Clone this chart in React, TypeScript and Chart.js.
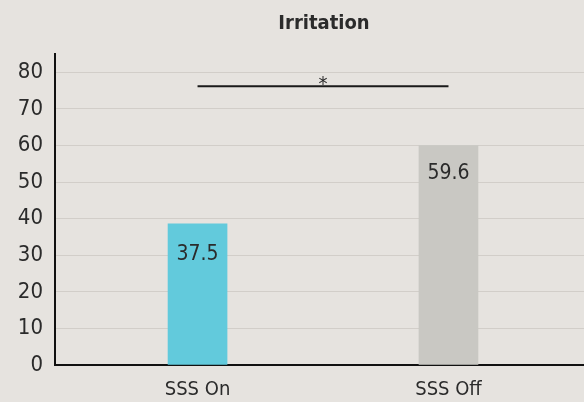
import React, { useEffect, useRef } from "react";
import { Chart, registerables } from "chart.js";

Chart.register(...registerables);

// ---- data ----
const titleText = "Irritation";
const categories = ["SSS On", "SSS Off"];
const barValues = [38.6, 60.0];
const valueLabels = ["37.5", "59.6"];
const barColors = ["#62cadc", "#c9c8c3"];
const yTickValues = [0, 10, 20, 30, 40, 50, 60, 70, 80];
const sigFrom = 0;
const sigTo = 1;
const sigLevel = 76.2;
const sigLabel = "*";

const FONT = "'DejaVu Sans Condensed', 'Liberation Sans Narrow', 'DejaVu Sans', sans-serif";
const TEXT = "#2b2b2b";
const BG = "#e6e3df";

const overlayPlugin = {
  id: "overlay",
  beforeDraw(chart: any) {
    const { ctx, width, height } = chart;
    ctx.save();
    ctx.fillStyle = BG;
    ctx.fillRect(0, 0, width, height);
    ctx.restore();
  },
  afterDatasetsDraw(chart: any) {
    const { ctx } = chart;
    const xs = chart.scales.x;
    const ys = chart.scales.y;
    ctx.save();
    // title centred between the two bars
    ctx.fillStyle = TEXT;
    ctx.font = `bold 20px ${FONT}`;
    ctx.textAlign = "center";
    ctx.textBaseline = "alphabetic";
    const midX = (xs.getPixelForValue(sigFrom + 1) + xs.getPixelForValue(sigTo + 1)) / 2;
    ctx.fillText(titleText, midX + 1, 29);

    // value labels inside bars
    ctx.font = `21px ${FONT}`;
    valueLabels.forEach((lab, i) => {
      const x = xs.getPixelForValue(i + 1);
      const y = ys.getPixelForValue(parseFloat(lab)) + 32;
      ctx.fillText(lab, x, y);
    });

    // significance bracket
    const x1 = xs.getPixelForValue(sigFrom + 1);
    const x2 = xs.getPixelForValue(sigTo + 1);
    const yy = ys.getPixelForValue(sigLevel);
    ctx.strokeStyle = "#1a1a1a";
    ctx.lineWidth = 2;
    ctx.beginPath();
    ctx.moveTo(x1, yy);
    ctx.lineTo(x2, yy);
    ctx.stroke();
    ctx.font = `20px ${FONT}`;
    ctx.fillText(sigLabel, (x1 + x2) / 2, yy + 4);
    ctx.restore();
  },
};

export default function App() {
  const ref = useRef<HTMLCanvasElement | null>(null);

  useEffect(() => {
    document.body.style.margin = "0";
    document.body.style.background = BG;
    if (!ref.current) return;
    const chart = new Chart(ref.current, {
      type: "bar",
      data: {
        datasets: [
          {
            data: barValues.map((v, i) => ({ x: i + 1, y: v })),
            backgroundColor: barColors,
            barThickness: 59,
            borderWidth: 0,
          },
        ],
      },
      options: {
        animation: false,
        responsive: false,
        maintainAspectRatio: false,
        layout: { padding: { top: 54, left: 0, right: 0, bottom: 0 } },
        plugins: {
          legend: { display: false },
          title: { display: false },
          tooltip: { enabled: false },
        },
        scales: {
          x: {
            type: "linear",
            min: 0.432,
            max: 2.54,
            offset: false,
            grid: { display: false, offset: false, drawTicks: false },
            border: { display: true, color: "#111111", width: 2 },
            afterBuildTicks: (scale: any) => {
              scale.ticks = categories.map((_, i) => ({ value: i + 1 }));
            },
            afterFit: (scale: any) => {
              scale.height = 37;
            },
            ticks: {
              autoSkip: false,
              maxRotation: 0,
              padding: 13,
              color: TEXT,
              font: { family: FONT, size: 20 },
              callback: (v: any) => categories[Math.round(Number(v)) - 1] ?? "",
            },
          },
          y: {
            type: "linear",
            min: 0,
            max: 85,
            grid: { color: "#d2cec9", lineWidth: 1, drawTicks: false },
            border: { display: true, color: "#111111", width: 2 },
            afterBuildTicks: (scale: any) => {
              scale.ticks = yTickValues.map((v) => ({ value: v }));
            },
            afterFit: (scale: any) => {
              scale.width = 55;
            },
            ticks: {
              padding: 12,
              color: TEXT,
              font: { family: FONT, size: 22 },
            },
          },
        },
      },
      plugins: [overlayPlugin],
    } as any);
    return () => chart.destroy();
  }, []);

  return (
    <div style={{ width: 584, height: 402 }}>
      <canvas ref={ref} width={584} height={402} style={{ width: 584, height: 402, display: "block" }} />
    </div>
  );
}
